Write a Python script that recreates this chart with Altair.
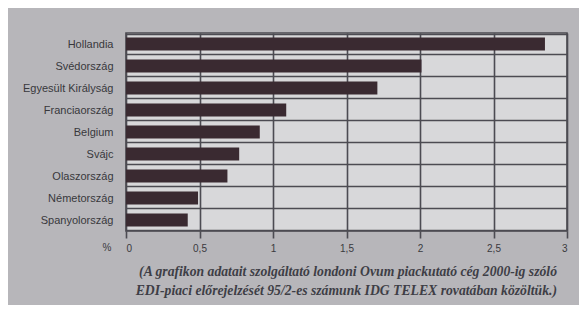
import altair as alt
import pandas as pd

countries = ["Hollandia", "Svédország", "Egyesült Királyság", "Franciaország",
             "Belgium", "Svájc", "Olaszország", "Németország", "Spanyolország"]
values = [2.85, 2.01, 1.71, 1.09, 0.91, 0.77, 0.69, 0.49, 0.42]
x_ticks = [0, 0.5, 1, 1.5, 2, 2.5, 3]
footnote = ["(A grafikon adatait szolgáltató londoni Ovum piackutató cég 2000-ig szóló",
            "EDI-piaci előrejelzését 95/2-es számunk IDG TELEX rovatában közöltük.)"]

df = pd.DataFrame({"country": countries, "value": values})

W, H = 441, 198
LINE = "#4c4b52"

bars = alt.Chart(df).mark_bar(color="#3a2a31", size=13).encode(
    x=alt.X("value:Q", scale=alt.Scale(domain=[0, 3], nice=False),
            axis=alt.Axis(values=x_ticks, title=None, grid=True, gridColor=LINE,
                          gridOpacity=1, gridWidth=1.6, domain=False, tickColor=LINE,
                          tickSize=7, tickWidth=1.6, tickOpacity=1,
                          labelExpr="replace(format(datum.value, ''), '.', ',')",
                          labelFont="Liberation Sans", labelFontSize=10,
                          labelColor="#3a3a3e", labelPadding=5)),
    y=alt.Y("country:N", sort=countries,
            axis=alt.Axis(title=None, grid=True, tickBand="extent", ticks=False,
                          domain=False, gridColor=LINE, gridOpacity=1, gridWidth=1.6,
                          labelFont="Liberation Sans", labelFontSize=11,
                          labelColor="#38383c", labelPadding=13)),
)

pct = alt.Chart(pd.DataFrame({"t": ["%"]})).mark_text(
    font="Liberation Sans", fontSize=10, color="#3a3a3e", align="center", baseline="middle"
).encode(text="t:N", x=alt.value(-19), y=alt.value(H + 17))

def note(i, ypos):
    return alt.Chart(pd.DataFrame({"t": [footnote[i]]})).mark_text(
        font="Liberation Serif", fontStyle="italic", fontWeight="bold", fontSize=13.7,
        color="#3e3e46", align="right", baseline="alphabetic"
    ).encode(text="t:N", x=alt.value(431), y=alt.value(ypos))

chart = alt.layer(bars, pct, note(0, 243), note(1, 262)).properties(
    width=W, height=H,
    autosize=alt.AutoSizeParams(type="none"),
    padding={"left": 118, "top": 25, "right": 12, "bottom": 74},
    background="#b7b6ba",
).configure_view(fill="#d8d8da", stroke=LINE, strokeWidth=1.6)

chart.save("out.html", embed_options={"renderer": "svg", "actions": False})
